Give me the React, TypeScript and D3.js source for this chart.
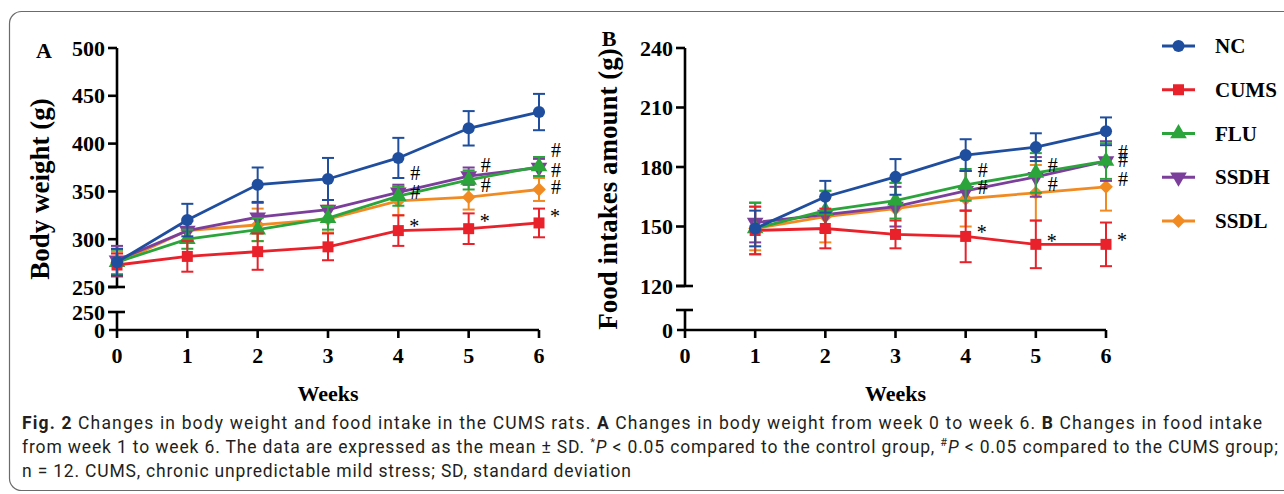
import React from "react";
import * as d3 from "d3";

// groups and styles
const groups = ["NC", "CUMS", "FLU", "SSDH", "SSDL"];
const colors = ["#1f4e9e", "#e8212b", "#2ba53b", "#7b3f9b", "#f28a22"];

// Panel A: body weight (g), weeks 0-6
const weeksA = [0, 1, 2, 3, 4, 5, 6];
const weightNC = [276, 320, 357, 363, 385, 416, 433];
const weightNCsd = [14, 17, 18, 22, 21, 18, 19];
const weightCUMS = [273, 282, 287, 292, 309, 311, 317];
const weightCUMSsd = [12, 16, 19, 14, 16, 16, 15];
const weightFLU = [276, 300, 310, 322, 345, 362, 376];
const weightFLUsd = [13, 10, 12, 12, 10, 10, 10];
const weightSSDH = [278, 309, 323, 331, 349, 366, 375];
const weightSSDHsd = [15, 10, 15, 10, 8, 9, 9];
const weightSSDL = [275, 309, 315, 321, 340, 344, 352];
const weightSSDLsd = [12, 12, 17, 14, 15, 13, 12];

// Panel B: food intake (g), weeks 1-6
const weeksB = [1, 2, 3, 4, 5, 6];
const foodNC = [149, 165, 175, 186, 190, 198];
const foodNCsd = [9, 8, 9, 8, 7, 7];
const foodCUMS = [148, 149, 146, 145, 141, 141];
const foodCUMSsd = [12, 10, 7, 13, 12, 11];
const foodFLU = [149, 158, 163, 171, 177, 183];
const foodFLUsd = [13, 10, 9, 8, 10, 9];
const foodSSDH = [152, 156, 160, 168, 175, 183];
const foodSSDHsd = [10, 9, 10, 10, 10, 10];
const foodSSDL = [149, 155, 159, 164, 167, 170];
const foodSSDLsd = [11, 13, 13, 14, 14, 12];

// significance marks (week, value position, symbol)
const marksA = [
  [4, 369, "#"], [4, 349, "#"], [4, 318, "*"],
  [5, 378, "#"], [5, 357, "#"], [5, 323, "*"],
  [6, 393, "#"], [6, 372, "#"], [6, 355, "#"], [6, 328, "*"],
];
const marksB = [
  [4, 178.5, "#"], [4, 170, "#"], [4, 149, "*"],
  [5, 181, "#"], [5, 171.5, "#"], [5, 144.5, "*"],
  [6, 187.5, "#"], [6, 183.5, "#"], [6, 174, "#"], [6, 145, "*"],
];

const ticksA = [250, 300, 350, 400, 450, 500];
const ticksB = [120, 150, 180, 210, 240];
const xTicks = [0, 1, 2, 3, 4, 5, 6];

const serif = "'Liberation Serif', 'Times New Roman', serif";

const symbolPath = (i: number) => {
  const t = [d3.symbolCircle, d3.symbolSquare, d3.symbolTriangle, d3.symbolTriangle, d3.symbolSquare][i];
  const size = [115, 121, 120, 120, 95][i];
  return d3.symbol().type(t).size(size)() as string;
};
const symbolRotate = [0, 0, 0, 180, 45];

const Marker = ({ i, x, y }: { i: number; x: number; y: number }) => (
  <path
    d={symbolPath(i)}
    transform={`translate(${x},${y}) rotate(${symbolRotate[i]})`}
    fill={colors[i]}
  />
);

type PanelCfg = {
  weeks: number[];
  values: number[][];
  sds: number[][];
  marks: (string | number)[][];
  x: d3.ScaleLinear<number, number>;
  yUp: d3.ScaleLinear<number, number>;
  yLow: d3.ScaleLinear<number, number>;
  ticks: number[];
  lowTop: string;
  yTitle: string;
  titleX: number;
  letter: string;
  letterX: number;
  letterY: number;
};

function Panel({ cfg }: { cfg: PanelCfg }) {
  const { x, yUp, yLow } = cfg;
  const ax = x(0);
  const base = yLow(0);
  const lowTopY = yLow.range()[1];
  const upBottom = yUp.range()[0];
  const upTop = yUp.range()[1];
  const line = d3
    .line<number>()
    .x((_, k) => x(cfg.weeks[k]))
    .y((v) => yUp(v));
  const order = [4, 3, 2, 1, 0];
  return (
    <g>
      {/* axes */}
      <g stroke="#000" strokeWidth={2.6} fill="none">
        <line x1={ax} x2={ax} y1={upTop} y2={upBottom} />
        <line x1={ax} x2={ax} y1={lowTopY} y2={base} />
        <line x1={ax - 8} x2={x(6)} y1={base} y2={base} />
        {cfg.ticks.map((t) => (
          <line key={t} x1={ax - 9} x2={ax} y1={yUp(t)} y2={yUp(t)} />
        ))}
        <line x1={ax - 9} x2={ax + 8} y1={upBottom} y2={upBottom} />
        <line x1={ax - 9} x2={ax + 8} y1={lowTopY} y2={lowTopY} />
        {xTicks.map((t) => (
          <line key={t} x1={x(t)} x2={x(t)} y1={base} y2={base + 8} />
        ))}
      </g>
      <g fontFamily={serif} fontWeight="bold" fontSize={22} fill="#000">
        {cfg.ticks.map((t) => (
          <text key={t} x={ax - 12} y={yUp(t)} textAnchor="end" dominantBaseline="central">
            {t}
          </text>
        ))}
        {cfg.lowTop && (
          <text x={ax - 12} y={lowTopY} textAnchor="end" dominantBaseline="central">
            {cfg.lowTop}
          </text>
        )}
        <text x={ax - 12} y={base} textAnchor="end" dominantBaseline="central">0</text>
        {xTicks.map((t) => (
          <text key={t} x={x(t)} y={base + 25} textAnchor="middle" dominantBaseline="central">
            {t}
          </text>
        ))}
        <text x={(x(0) + x(6)) / 2} y={393} textAnchor="middle" dominantBaseline="central" fontSize={22}>
          Weeks
        </text>
        <text
          transform={`translate(${cfg.titleX},${(upTop + base) / 2}) rotate(-90)`}
          textAnchor="middle"
          dominantBaseline="central"
          fontSize={27}
        >
          {cfg.yTitle}
        </text>
        <text x={cfg.letterX} y={cfg.letterY} textAnchor="middle" dominantBaseline="central">
          {cfg.letter}
        </text>
      </g>
      {/* series */}
      {order.map((i) => (
        <g key={i}>
          <g stroke={colors[i]} strokeWidth={2}>
            {cfg.values[i].map((v, k) => {
              const cx = x(cfg.weeks[k]);
              const y1 = yUp(v + cfg.sds[i][k]);
              const y2 = yUp(v - cfg.sds[i][k]);
              return (
                <g key={k}>
                  <line x1={cx} x2={cx} y1={y1} y2={y2} />
                  <line x1={cx - 6} x2={cx + 6} y1={y1} y2={y1} />
                  <line x1={cx - 6} x2={cx + 6} y1={y2} y2={y2} />
                </g>
              );
            })}
          </g>
          <path d={line(cfg.values[i]) as string} fill="none" stroke={colors[i]} strokeWidth={2.8} />
          {cfg.values[i].map((v, k) => (
            <Marker key={k} i={i} x={x(cfg.weeks[k])} y={yUp(v)} />
          ))}
        </g>
      ))}
      <g fontFamily={serif} fontSize={20} fill="#000">
        {cfg.marks.map((m, k) => (
          <text
            key={k}
            x={x(m[0] as number) + (m[2] === "#" ? 12 : 11)}
            y={yUp(m[1] as number) + (m[2] === "*" ? 4 : 0)}
            dominantBaseline="central"
          >
            {m[2]}
          </text>
        ))}
      </g>
    </g>
  );
}

export default function App() {
  const W = 1284;
  const H = 494;

  const cfgA: PanelCfg = {
    weeks: weeksA,
    values: [weightNC, weightCUMS, weightFLU, weightSSDH, weightSSDL],
    sds: [weightNCsd, weightCUMSsd, weightFLUsd, weightSSDHsd, weightSSDLsd],
    marks: marksA,
    x: d3.scaleLinear().domain([0, 6]).range([117, 539]),
    yUp: d3.scaleLinear().domain([250, 500]).range([287, 48]),
    yLow: d3.scaleLinear().domain([0, 250]).range([330, 312]),
    ticks: ticksA,
    lowTop: "250",
    yTitle: "Body weight (g)",
    titleX: 40,
    letter: "A",
    letterX: 44,
    letterY: 50,
  };

  const cfgB: PanelCfg = {
    weeks: weeksB,
    values: [foodNC, foodCUMS, foodFLU, foodSSDH, foodSSDL],
    sds: [foodNCsd, foodCUMSsd, foodFLUsd, foodSSDHsd, foodSSDLsd],
    marks: marksB,
    x: d3.scaleLinear().domain([0, 6]).range([685, 1106]),
    yUp: d3.scaleLinear().domain([120, 240]).range([286, 48]),
    yLow: d3.scaleLinear().domain([0, 120]).range([330, 310]),
    ticks: ticksB,
    lowTop: "",
    yTitle: "Food intakes amount (g)",
    titleX: 608,
    letter: "B",
    letterX: 609,
    letterY: 38,
  };

  const legendY = d3.scalePoint<string>().domain(groups).range([46, 221]);
  const sans = "Roboto, 'Noto Sans', sans-serif";

  return (
    <svg
      width={W}
      height={H}
      style={{ position: "absolute", left: 0, top: 0, background: "#fff" }}
    >
      <rect x={9.5} y={11.5} width={1300} height={479} rx={12} fill="#fff" stroke="#6b6b6b" strokeWidth={1.2} />
      <Panel cfg={cfgA} />
      <Panel cfg={cfgB} />

      {/* legend */}
      {groups.map((g, i) => {
        const y = legendY(g) as number;
        return (
          <g key={g}>
            <line x1={1162} x2={1195} y1={y} y2={y} stroke={colors[i]} strokeWidth={3} />
            <Marker i={i} x={1178.5} y={y} />
            <text
              x={1215}
              y={y}
              dominantBaseline="central"
              fontFamily={serif}
              fontWeight="bold"
              fontSize={21}
            >
              {g}
            </text>
          </g>
        );
      })}

      {/* caption */}
      <g fontFamily={sans} fontSize={17.5} fill="#231f20">
        <text x={22} y={429} textLength={1240} lengthAdjust="spacing">
          <tspan fontWeight="bold">Fig. 2</tspan>
          {"  Changes in body weight and food intake in the CUMS rats. "}
          <tspan fontWeight="bold">A</tspan>
          {" Changes in body weight from week 0 to week 6. "}
          <tspan fontWeight="bold">B</tspan>
          {" Changes in food intake"}
        </text>
        <text x={22} y={453} textLength={1256} lengthAdjust="spacing">
          {"from week 1 to week 6. The data are expressed as the mean ± SD. "}
          <tspan fontSize={11} dy={-7}>*</tspan>
          <tspan fontStyle="italic" dy={7}>P</tspan>
          {" < 0.05 compared to the control group, "}
          <tspan fontSize={11} dy={-7}>#</tspan>
          <tspan fontStyle="italic" dy={7}>P</tspan>
          {" < 0.05 compared to the CUMS group;"}
        </text>
        <text x={22} y={477} textLength={609} lengthAdjust="spacing">
          n = 12. CUMS, chronic unpredictable mild stress; SD, standard deviation
        </text>
      </g>
    </svg>
  );
}
